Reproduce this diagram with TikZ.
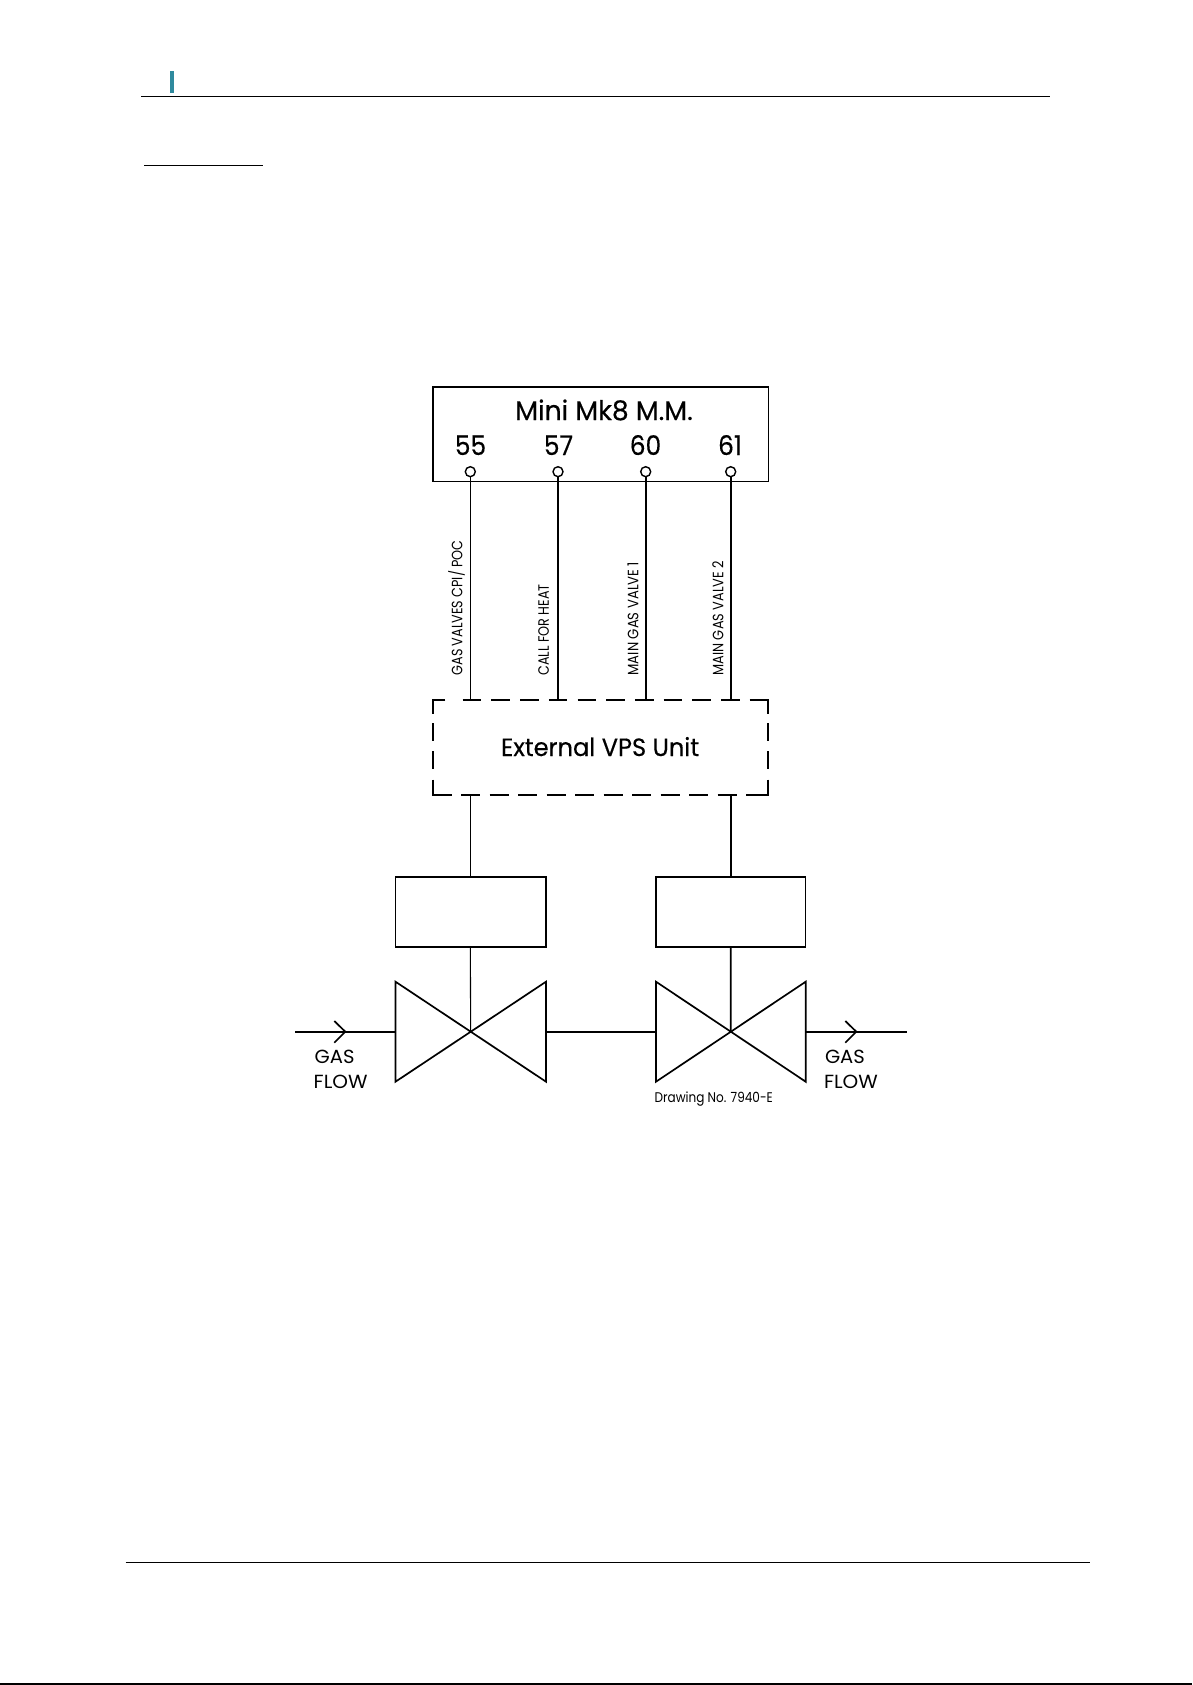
\documentclass[tikz,border=0pt]{standalone}
\usepackage{fontspec}
\usetikzlibrary{calc}
\setmainfont{Poppins}
\newfontfamily\medfont[FakeBold=0.35]{Poppins}
\newcommand{\sq}[2]{\scalebox{#1}[1]{#2}}
\tikzset{
  x=1pt,y=-1pt,
  heavy/.style={line width=1.7pt,black},
  thinwire/.style={line width=1.1pt,black},
  boxline/.style={draw,line width=1.6pt,minimum width=#1,inner sep=0pt,outer sep=0pt},
  frameonly/.style={minimum width=335.6pt,minimum height=95.3pt,inner sep=0pt,outer sep=0pt},
  vpsline/.style={line width=1.8pt,black,line join=miter},
  termdot/.style={circle,draw,fill=white,line width=1.4pt,minimum size=10pt,inner sep=0pt,outer sep=0pt},
  lbl/.style={anchor=base,inner sep=0pt,outer sep=0pt},
  vlbl/.style={anchor=base west,rotate=90,inner sep=0pt,outer sep=0pt,font=\fontsize{15}{15}\selectfont},
  rule/.style={line width=1.4pt,black}
}
\begin{document}
\begin{tikzpicture}
\useasboundingbox (0,0) rectangle (1192,1685);
% page furniture
\fill[fill={rgb,255:red,47;green,138;blue,158}] (170,71) rectangle (174,93);
\draw[rule] (141,96.3) -- (1050,96.3);
\draw[rule] (144,165.3) -- (263,165.3);
\draw[rule] (125.5,1562.7) -- (1090,1562.7);
\draw[line width=2pt,black] (0,1684.2) -- (1192,1684.2);
% boxes
\node[boxline=335.6pt,minimum height=94.6pt] (mm) at (600.5,434) {};
\node[frameonly] (vps) at (600.5,747.4) {};
\coordinate (nw) at (vps.north west);
\coordinate (ne) at (vps.north east);
\coordinate (sw) at (vps.south west);
\coordinate (se) at (vps.south east);
\draw[vpsline] ($(nw)+(12.7,0)$) -- (nw) -- ($(nw)+(0,14)$);
\draw[vpsline] ($(ne)+(-18,0)$) -- (ne) -- ($(ne)+(0,14)$);
\draw[vpsline] ($(sw)+(19,0)$) -- (sw) -- ($(sw)+(0,-15)$);
\draw[vpsline] ($(se)+(-21,0)$) -- (se) -- ($(se)+(0,-15)$);
\draw[vpsline,dash pattern=on 18.6pt off 10.1pt] ($(nw)+(30,0)$) -- ($(ne)+(-18,0)$);
\draw[vpsline,dash pattern=on 19pt off 9.5pt] ($(sw)+(28.5,0)$) -- ($(se)+(-21,0)$);
\draw[vpsline,dash pattern=on 18pt off 10.3pt] ($(nw)+(0,23.3)$) -- ($(sw)+(0,-15)$);
\draw[vpsline,dash pattern=on 18pt off 10.3pt] ($(ne)+(0,23.3)$) -- ($(se)+(0,-15)$);
\node[boxline=150.5pt,minimum height=70pt] (actL) at (470.7,912) {};
\node[boxline=149.7pt,minimum height=70pt] (actR) at (730.8,912) {};
% terminals
\node[termdot] (t55) at (470.3,471.7) {};
\node[termdot] (t57) at (558,471.7) {};
\node[termdot] (t60) at (645.7,471.7) {};
\node[termdot] (t61) at (730.7,471.7) {};
% texts
\node[lbl,font=\fontsize{27}{27}\selectfont\medfont] at (604,420) {\sq{0.985}{Mini Mk8 M.M.}};
\node[lbl,font=\fontsize{27}{27}\selectfont\medfont] at (470.5,455) {\sq{0.92}{55}};
\node[lbl,font=\fontsize{27}{27}\selectfont\medfont] at (558.5,455) {\sq{0.92}{57}};
\node[lbl,font=\fontsize{27}{27}\selectfont\medfont] at (645.5,455) {\sq{0.92}{60}};
\node[lbl,font=\fontsize{27}{27}\selectfont\medfont] at (730,455) {\sq{0.92}{61}};
\node[lbl,font=\fontsize{25}{25}\selectfont\medfont] at (600,756) {\sq{0.965}{External VPS Unit}};
\node[vlbl] at (462.3,675.5) {\sq{0.85}{GAS VALVES CPI/ POC}};
\node[vlbl] at (548.8,675.5) {\sq{0.85}{CALL FOR HEAT}};
\node[vlbl] at (638.3,675.5) {\sq{0.88}{MAIN GAS VALVE 1}};
\node[vlbl] at (723.3,675.5) {\sq{0.86}{MAIN GAS VALVE 2}};
% wires
\draw[thinwire] (t55.south) -- (t55 |- vps.north);
\draw[heavy] (t57.south) -- (t57 |- vps.north);
\draw[heavy] (t60.south) -- (t60 |- vps.north);
\draw[heavy] (t61.south) -- (t61 |- vps.north);
\draw[thinwire] (actL.north -| t55) -- (t55 |- vps.south);
\draw[heavy] (actR.north -| t61) -- (t61 |- vps.south);
% valves
\coordinate (vLc) at (470.7,1031.7);
\coordinate (vRc) at (730.8,1031.7);
\coordinate (vLw) at (395.5,1031.7);
\coordinate (vLe) at (546,1031.7);
\coordinate (vRw) at (656,1031.7);
\coordinate (vRe) at (805.7,1031.7);
\coordinate (inEnd) at (295,1031.7);
\coordinate (outEnd) at (906.5,1031.7);
\coordinate (tipL) at (345.3,1031.7);
\coordinate (tipR) at (856.3,1031.7);
\draw[heavy,line join=miter] (395.5,981.7) -- (546,1081.7) -- (546,981.7) -- (395.5,1081.7) -- cycle;
\draw[heavy,line join=miter] (656,981.7) -- (805.7,1081.7) -- (805.7,981.7) -- (656,1081.7) -- cycle;
\draw[thinwire] (actL.south -| t55) -- (vLc);
\draw[heavy] (actR.south -| t61) -- (vRc);
\draw[heavy] (inEnd) -- (vLw);
\draw[heavy] (vLe) -- (vRw);
\draw[heavy] (vRe) -- (outEnd);
\draw[heavy] ($(tipL)+(-11,-10.7)$) -- (tipL) -- ($(tipL)+(-11,11)$);
\draw[heavy] ($(tipR)+(-11,-10.7)$) -- (tipR) -- ($(tipR)+(-11,11)$);
% gas labels
\node[lbl,anchor=base west,font=\fontsize{19}{19}\selectfont] at (314.7,1063) {\sq{1.03}{GAS}};
\node[lbl,anchor=base west,font=\fontsize{19}{19}\selectfont] at (313.7,1088) {\sq{1.05}{FLOW}};
\node[lbl,anchor=base west,font=\fontsize{19}{19}\selectfont] at (825,1063) {\sq{1.03}{GAS}};
\node[lbl,anchor=base west,font=\fontsize{19}{19}\selectfont] at (824,1088) {\sq{1.05}{FLOW}};
\node[lbl,anchor=base west,font=\fontsize{14}{14}\selectfont] at (654.7,1102.7) {\sq{0.86}{Drawing No. 7940-E}};
\end{tikzpicture}
\end{document}
